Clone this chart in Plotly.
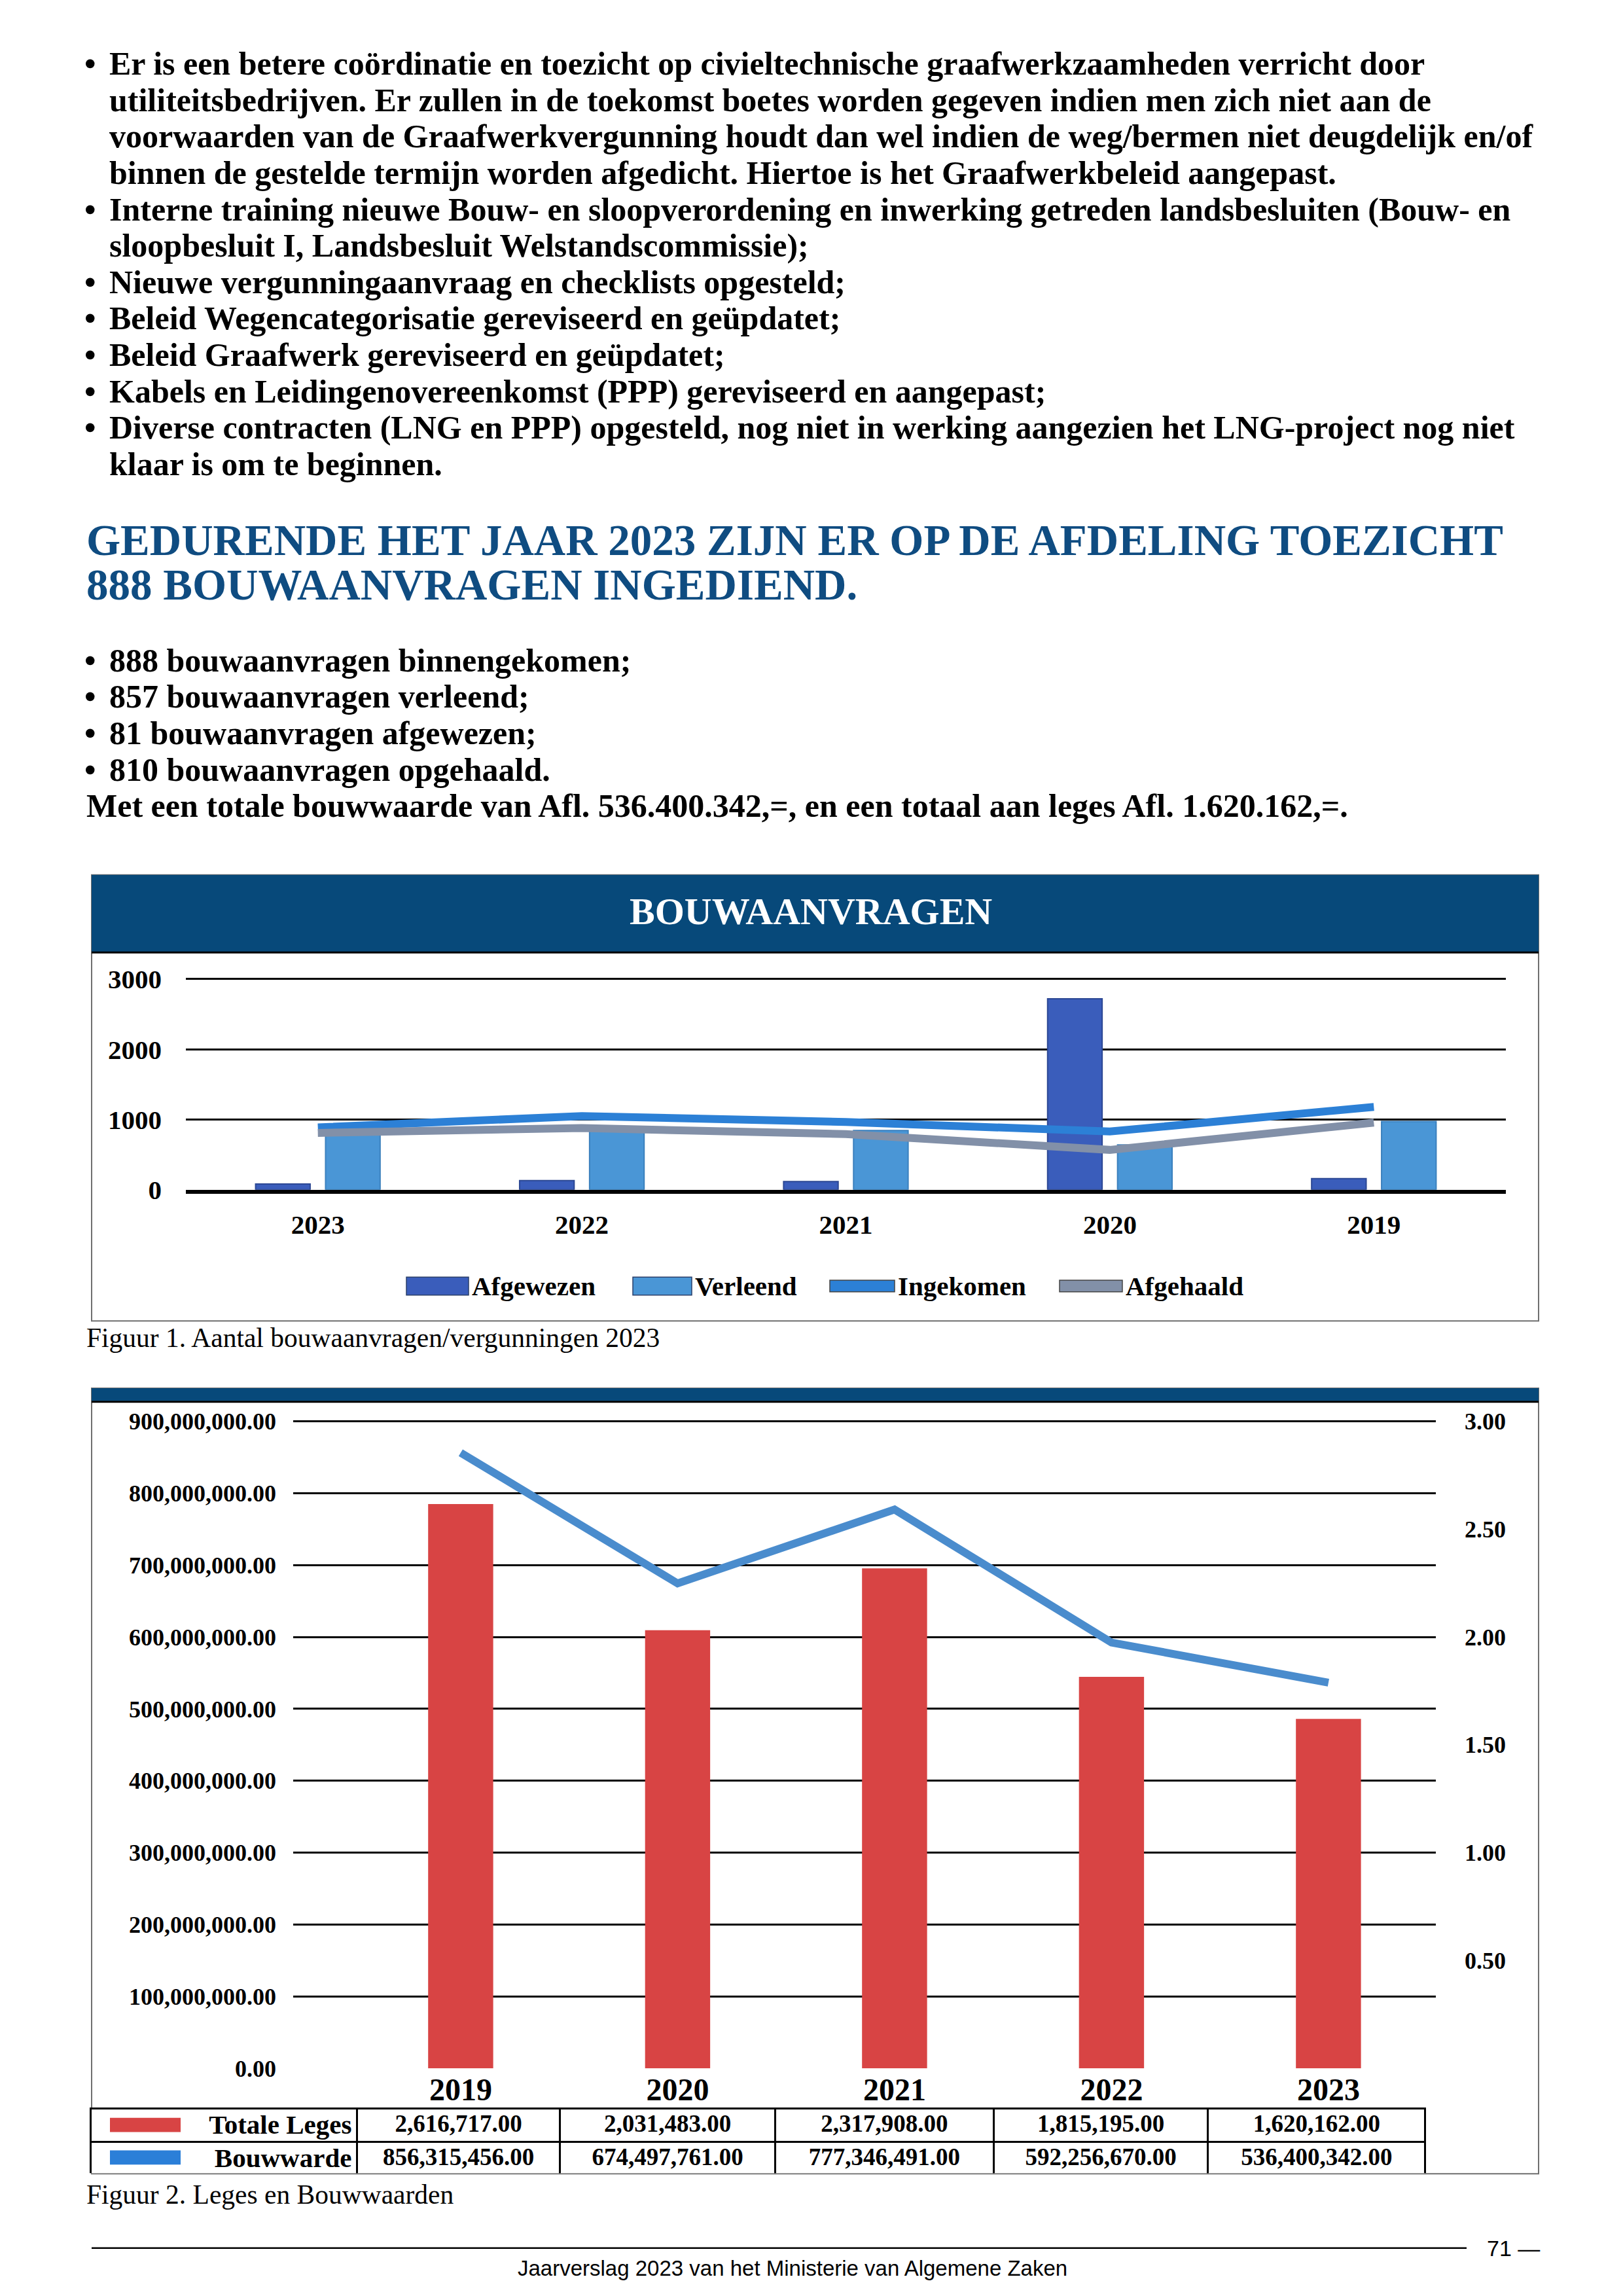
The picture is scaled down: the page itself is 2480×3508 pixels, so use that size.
import plotly.graph_objects as go

W, H = 2480, 3508


def px(x):
    return x / W


def py(y):
    return 1 - y / H


SERIF = "Liberation Serif"
SANS = "Liberation Sans"

# ---------------- data ----------------
# Figuur 1 - Bouwaanvragen
years1 = ["2023", "2022", "2021", "2020", "2019"]
afgewezen = [81, 130, 116, 2721, 159]
verleend = [857, 850, 844, 640, 973]
ingekomen = [888, 1050, 965, 830, 1180]
afgehaald = [810, 879, 793, 568, 956]
y1_ticks = [0, 1000, 2000, 3000]
series1_names = ["Afgewezen", "Verleend", "Ingekomen", "Afgehaald"]

# Figuur 2 - Leges en Bouwwaarden
years2 = ["2019", "2020", "2021", "2022", "2023"]
totale_leges = [2616717.00, 2031483.00, 2317908.00, 1815195.00, 1620162.00]
bouwwarde = [856315456.00, 674497761.00, 777346491.00, 592256670.00, 536400342.00]
left_ticks2 = [0, 1e8, 2e8, 3e8, 4e8, 5e8, 6e8, 7e8, 8e8, 9e8]
right_ticks2 = [0.5e6, 1.0e6, 1.5e6, 2.0e6, 2.5e6, 3.0e6]
series2_names = ["Totale Leges", "Bouwwarde"]

# ---------------- page text ----------------
intro_lines = [
    (True, "Er is een betere coördinatie en toezicht op civieltechnische graafwerkzaamheden verricht door"),
    (False, "utiliteitsbedrijven. Er zullen in de toekomst boetes worden gegeven indien men zich niet aan de"),
    (False, "voorwaarden van de Graafwerkvergunning houdt dan wel indien de weg/bermen niet deugdelijk en/of"),
    (False, "binnen de gestelde termijn worden afgedicht. Hiertoe is het Graafwerkbeleid aangepast."),
    (True, "Interne training nieuwe Bouw- en sloopverordening en inwerking getreden landsbesluiten (Bouw- en"),
    (False, "sloopbesluit I, Landsbesluit Welstandscommissie);"),
    (True, "Nieuwe vergunningaanvraag en checklists opgesteld;"),
    (True, "Beleid Wegencategorisatie gereviseerd en geüpdatet;"),
    (True, "Beleid Graafwerk gereviseerd en geüpdatet;"),
    (True, "Kabels en Leidingenovereenkomst (PPP) gereviseerd en aangepast;"),
    (True, "Diverse contracten (LNG en PPP) opgesteld, nog niet in werking aangezien het LNG-project nog niet"),
    (False, "klaar is om te beginnen."),
]
heading_lines = [
    "GEDURENDE HET JAAR 2023 ZIJN ER OP DE AFDELING TOEZICHT",
    "888 BOUWAANVRAGEN INGEDIEND.",
]
summary_lines = [
    (True, "888 bouwaanvragen binnengekomen;"),
    (True, "857 bouwaanvragen verleend;"),
    (True, "81 bouwaanvragen afgewezen;"),
    (True, "810 bouwaanvragen opgehaald."),
    (False, "Met een totale bouwwaarde van Afl. 536.400.342,=, en een totaal aan leges Afl. 1.620.162,=."),
]

# ---------------- styles ----------------
C_AFGEWEZEN = "#3a5dbb"
C_AFGEWEZEN_EDGE = "#2c4894"
C_VERLEEND = "#4a96d6"
C_VERLEEND_EDGE = "#3b80bd"
C_INGEKOMEN = "#2c80d6"
C_AFGEHAALD = "#8290a8"
C_LEGES = "#d84444"
C_BOUW = "#4a8ccd"
C_BOUW_SW = "#2b7fd8"
C_HEAD = "#07497a"
C_HEADING = "#0f4c81"

BODY = 50
LINE = 56.3
X_BULLET = 119
X_TEXT = 157
X_LEFT = 122
BOX_L, BOX_R = 132, 2343

fig = go.Figure()

# ---------------- chart 1 ----------------
fig.add_trace(go.Bar(x=years1, y=afgewezen, name=series1_names[0],
                     marker=dict(color=C_AFGEWEZEN, line=dict(width=2, color=C_AFGEWEZEN_EDGE)),
                     xaxis="x", yaxis="y"))
fig.add_trace(go.Bar(x=years1, y=verleend, name=series1_names[1],
                     marker=dict(color=C_VERLEEND, line=dict(width=2, color=C_VERLEEND_EDGE)),
                     xaxis="x", yaxis="y"))
fig.add_trace(go.Scatter(x=years1, y=ingekomen, name=series1_names[2], mode="lines",
                         line=dict(color=C_INGEKOMEN, width=12),
                         xaxis="x", yaxis="y"))
fig.add_trace(go.Scatter(x=years1, y=afgehaald, name=series1_names[3], mode="lines",
                         line=dict(color=C_AFGEHAALD, width=12),
                         xaxis="x", yaxis="y"))

# ---------------- chart 2 ----------------
fig.add_trace(go.Bar(x=years2, y=totale_leges, name=series2_names[0], width=0.3,
                     marker=dict(color=C_LEGES, line=dict(width=0)),
                     xaxis="x2", yaxis="y2"))
fig.add_trace(go.Scatter(x=years2, y=bouwwarde, name=series2_names[1], mode="lines",
                         line=dict(color=C_BOUW, width=12),
                         xaxis="x2", yaxis="y3"))

# data table under chart 2
TAB_L, TAB_R, TAB_T, TAB_M, TAB_B = 130, 2170, 3233, 3284, 3334
tab_sizes = [41, 37, 37, 37, 37, 37]
tabfont = dict(family=SERIF, size=tab_sizes, color="black", weight="bold")
fig.add_trace(go.Table(
    domain=dict(x=[px(TAB_L), px(TAB_R)], y=[py(TAB_B), py(TAB_T)]),
    columnwidth=[412, 314, 332, 338, 331, 336],
    header=dict(
        values=[series2_names[0]] + [f"{v:,.2f}" for v in totale_leges],
        height=TAB_M - TAB_T, align=["right"] + ["center"] * 5,
        fill=dict(color="white"), line=dict(color="black", width=3), font=tabfont,
    ),
    cells=dict(
        values=[[series2_names[1]]] + [[f"{v:,.2f}"] for v in bouwwarde],
        height=TAB_B - TAB_M, align=["right"] + ["center"] * 5,
        fill=dict(color="white"), line=dict(color="black", width=3), font=tabfont,
    ),
))

tickfont1 = dict(family=SERIF, size=41, color="black", weight="bold")
tickfont2 = dict(family=SERIF, size=36, color="black", weight="bold")

layout = dict(
    width=W, height=H,
    margin=dict(l=0, r=0, t=0, b=0),
    paper_bgcolor="white",
    plot_bgcolor="rgba(0,0,0,0)",
    showlegend=False,
    barmode="group",
    bargap=0.47,
    bargroupgap=0.22,
    xaxis=dict(domain=[px(276), px(2293)], anchor="y", type="category",
               range=[-0.5, 4.5], showline=True, linecolor="black", linewidth=6,
               ticks="", showgrid=False, zeroline=False,
               tickfont=tickfont1, ticklabelstandoff=12),
    yaxis=dict(domain=[py(1812), py(1484)], anchor="x", range=[0, 3020],
               tickvals=y1_ticks, showgrid=True, gridcolor="black", gridwidth=2.5,
               zeroline=False, ticks="", tickfont=tickfont1, ticklabelstandoff=36,
               showline=False),
    xaxis2=dict(domain=[px(440), px(2186)], anchor="y2", type="category",
                range=[-0.772, 4.495], showline=False, ticks="", showgrid=False,
                zeroline=False,
                tickfont=dict(family=SERIF, size=48, color="black", weight="bold"),
                ticklabelstandoff=0),
    yaxis2=dict(domain=[py(3171), py(2168.2)], anchor="x2", side="right",
                range=[0, 3.006e6], tickvals=right_ticks2,
                ticktext=[f"{v / 1e6:.2f}" for v in right_ticks2],
                showgrid=False, zeroline=False, ticks="", showline=False,
                tickfont=tickfont2, ticklabelstandoff=43),
    yaxis3=dict(overlaying="y2", anchor="x2", side="left",
                range=[0, 9.018e8], tickvals=left_ticks2, tickformat=",.2f",
                showgrid=True, gridcolor="black", gridwidth=2.5,
                zeroline=False, ticks="", showline=False,
                tickfont=tickfont2, ticklabelstandoff=25),
)

shapes = []
annotations = []

# chart frames and header bands
shapes.append(dict(type="rect", xref="paper", yref="paper",
                   x0=px(BOX_L), x1=px(BOX_R), y0=py(2015), y1=py(1325),
                   line=dict(color="#6f6f6f", width=2), fillcolor="rgba(0,0,0,0)", layer="below"))
shapes.append(dict(type="rect", xref="paper", yref="paper",
                   x0=px(BOX_L), x1=px(BOX_R), y0=py(1444), y1=py(1325),
                   line=dict(width=0), fillcolor=C_HEAD, layer="below"))
shapes.append(dict(type="line", xref="paper", yref="paper",
                   x0=px(BOX_L), x1=px(BOX_R), y0=py(1445), y1=py(1445),
                   line=dict(color="black", width=3)))
shapes.append(dict(type="rect", xref="paper", yref="paper",
                   x0=px(BOX_L), x1=px(BOX_R), y0=py(3334), y1=py(2119),
                   line=dict(color="#6f6f6f", width=2), fillcolor="rgba(0,0,0,0)", layer="below"))
shapes.append(dict(type="rect", xref="paper", yref="paper",
                   x0=px(BOX_L), x1=px(BOX_R), y0=py(2139), y1=py(2119),
                   line=dict(width=0), fillcolor=C_HEAD, layer="below"))
shapes.append(dict(type="line", xref="paper", yref="paper",
                   x0=px(BOX_L), x1=px(BOX_R), y0=py(2140), y1=py(2140),
                   line=dict(color="black", width=3)))
# table legend swatches (drawn above the table)
for (r0, r1), col in zip([(TAB_T, TAB_M), (TAB_M, TAB_B)], [C_LEGES, C_BOUW_SW]):
    cy = (r0 + r1) / 2
    shapes.append(dict(type="rect", xref="paper", yref="paper", layer="above",
                       x0=px(160), x1=px(268), y0=py(cy + 11), y1=py(cy - 11),
                       line=dict(width=0), fillcolor=col))
# footer rule
shapes.append(dict(type="line", xref="paper", yref="paper",
                   x0=px(BOX_L), x1=px(2233), y0=py(3449), y1=py(3449),
                   line=dict(color="black", width=2.5)))

# chart 1 title
annotations.append(dict(text="BOUWAANVRAGEN", xref="paper", yref="paper",
                        x=px(1231), y=py(1381), xanchor="center", yanchor="middle",
                        showarrow=False,
                        font=dict(family=SERIF, size=58, color="white", weight="bold")))

# chart 1 legend (manual, wide swatches like the original)
legend_swatch_x = [(613, 708), (959, 1049), (1260, 1359), (1611, 1707)]
legend_colors = [C_AFGEWEZEN, C_VERLEEND, C_INGEKOMEN, C_AFGEHAALD]
legend_is_line = [False, False, True, True]
LEG_Y = 1961
for name, (sx0, sx1), col, is_line in zip(series1_names, legend_swatch_x, legend_colors, legend_is_line):
    hh = 9 if is_line else 14
    shapes.append(dict(type="rect", xref="paper", yref="paper",
                       x0=px(sx0), x1=px(sx1), y0=py(LEG_Y + hh), y1=py(LEG_Y - hh),
                       line=dict(color="#2a3f6a" if not is_line else "#444", width=1.5),
                       fillcolor=col))
    annotations.append(dict(text=name, xref="paper", yref="paper",
                            x=px(sx1 + 3), y=py(LEG_Y), xanchor="left", yanchor="middle",
                            showarrow=False, font=tickfont1))

bodyfont = dict(family=SERIF, size=BODY, color="black", weight="bold")

# page text
for i, (bullet, txt) in enumerate(intro_lines):
    yy = 70 + i * LINE
    if bullet:
        annotations.append(dict(text="•", xref="paper", yref="paper", x=px(X_BULLET), y=py(yy),
                                xanchor="left", yanchor="middle", showarrow=False, font=bodyfont))
    annotations.append(dict(text=txt, xref="paper", yref="paper", x=px(X_TEXT), y=py(yy),
                            xanchor="left", yanchor="middle", showarrow=False, font=bodyfont))

for i, txt in enumerate(heading_lines):
    annotations.append(dict(text=txt, xref="paper", yref="paper", x=px(X_LEFT), y=py(807 + i * 69),
                            xanchor="left", yanchor="middle", showarrow=False,
                            font=dict(family=SERIF, size=67, color=C_HEADING, weight="bold")))

for i, (bullet, txt) in enumerate(summary_lines):
    yy = 993 + i * LINE
    if bullet:
        annotations.append(dict(text="•", xref="paper", yref="paper", x=px(X_BULLET), y=py(yy),
                                xanchor="left", yanchor="middle", showarrow=False, font=bodyfont))
        xx = X_TEXT
    else:
        xx = X_LEFT
    annotations.append(dict(text=txt, xref="paper", yref="paper", x=px(xx), y=py(yy),
                            xanchor="left", yanchor="middle", showarrow=False, font=bodyfont))

# captions
annotations.append(dict(text="Figuur 1. Aantal bouwaanvragen/vergunningen 2023",
                        xref="paper", yref="paper", x=px(X_LEFT), y=py(2041),
                        xanchor="left", yanchor="middle", showarrow=False,
                        font=dict(family=SERIF, size=41.5, color="black")))
annotations.append(dict(text="Figuur 2. Leges en Bouwwaarden",
                        xref="paper", yref="paper", x=px(X_LEFT), y=py(3366),
                        xanchor="left", yanchor="middle", showarrow=False,
                        font=dict(family=SERIF, size=41.5, color="black")))

# footer
annotations.append(dict(text="71 \u2014", xref="paper", yref="paper", x=px(2262), y=py(3449),
                        xanchor="left", yanchor="middle", showarrow=False,
                        font=dict(family=SANS, size=34, color="black")))
annotations.append(dict(text="Jaarverslag 2023 van het Ministerie van Algemene Zaken",
                        xref="paper", yref="paper", x=px(1203), y=py(3480),
                        xanchor="center", yanchor="middle", showarrow=False,
                        font=dict(family=SANS, size=33, color="black")))

layout["shapes"] = shapes
layout["annotations"] = annotations
fig.update_layout(**layout)

fig.write_html("out.html", config={"displayModeBar": False})
